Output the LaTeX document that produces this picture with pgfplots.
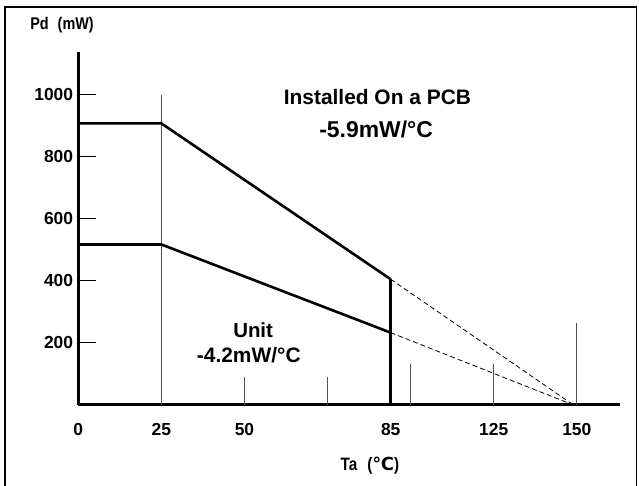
\documentclass[border=0pt]{standalone}
\usepackage{pgfplots}
\pgfplotsset{compat=1.18}
\usepackage{fontspec}
\setmainfont{Liberation Sans}
\newfontfamily\cond{Liberation Sans}[FakeStretch=0.85]
\newfontfamily\dejavu{DejaVu Sans}
\definecolor{gline}{RGB}{80,80,80}
\begin{document}
\begin{tikzpicture}[x=1bp,y=1bp]
\useasboundingbox (0,0) rectangle (639,486);
\draw[line width=1.2bp] (5,-5) -- (5,479) -- (636.5,479) -- (636.5,-5);
\begin{axis}[
  at={(78.3bp,81bp)}, anchor=south west,
  scale only axis, width=541.7bp, height=353bp,
  xmin=0, xmax=163, ymin=0, ymax=1137,
  clip=false,
  axis x line=bottom, axis y line=left,
  axis line style={-, line width=3bp, black},
  xtick={0,25,50,94,125,150},
  xticklabels={0,25,50,85,125,150},
  ytick={200,400,600,800,1000},
  yticklabels={200,400,600,800,1000},
  tick align=inside,
  major tick length=18bp,
  xtick style={draw=none},
  ytick style={black, line width=0.9bp},
  ticklabel style={font=\bfseries\fontsize{17.5}{17.5}\selectfont, inner sep=0pt},
  yticklabel style={anchor=east, xshift=-5bp},
  xticklabel style={anchor=north, yshift=-18bp},
]
% vertical reference lines
\addplot[gline, line width=1bp] coordinates {(25,0) (25,1000)};
\addplot[gline, line width=1bp] coordinates {(50,0) (50,90)};
\addplot[gline, line width=1bp] coordinates {(75,0) (75,90)};
\addplot[gline, line width=1bp] coordinates {(100,0) (100,131)};
\addplot[gline, line width=1bp] coordinates {(125,0) (125,131)};
\addplot[gline, line width=1bp] coordinates {(150,0) (150,265)};
% derating curves
\addplot[black, line width=2.6bp, line join=miter] coordinates {(0,907) (25,907) (94,405)};
\addplot[black, line width=2.6bp, line join=miter] coordinates {(0,517) (25,517) (94,233)};
\addplot[black, line width=2.6bp] coordinates {(94,0) (94,405)};
\addplot[black, line width=0.8bp, dash pattern=on 5bp off 3bp] coordinates {(94,405) (149,0)};
\addplot[black, line width=0.8bp, dash pattern=on 5bp off 3bp] coordinates {(94,233) (149,0)};
% annotations
\node[font=\bfseries\fontsize{21}{21}\selectfont] at (axis cs:90.0,992) {Installed On a PCB};
\node[font=\bfseries\fontsize{23}{23}\selectfont] at (axis cs:89.6,886) {-5.9mW/°C};
\node[font=\bfseries\fontsize{20.5}{20.5}\selectfont] at (axis cs:52.6,241) {Unit};
\node[font=\bfseries\fontsize{21}{21}\selectfont] at (axis cs:51.3,160) {-4.2mW/°C};
\end{axis}
\node[font=\cond\bfseries\fontsize{17}{17}\selectfont] at (62,461) {Pd\hspace{9bp}(mW)};
\node[font=\cond\bfseries\fontsize{18}{18}\selectfont] at (370,20) {Ta\hspace{10bp}({\dejavu\bfseries ℃})};
\end{tikzpicture}
\end{document}
